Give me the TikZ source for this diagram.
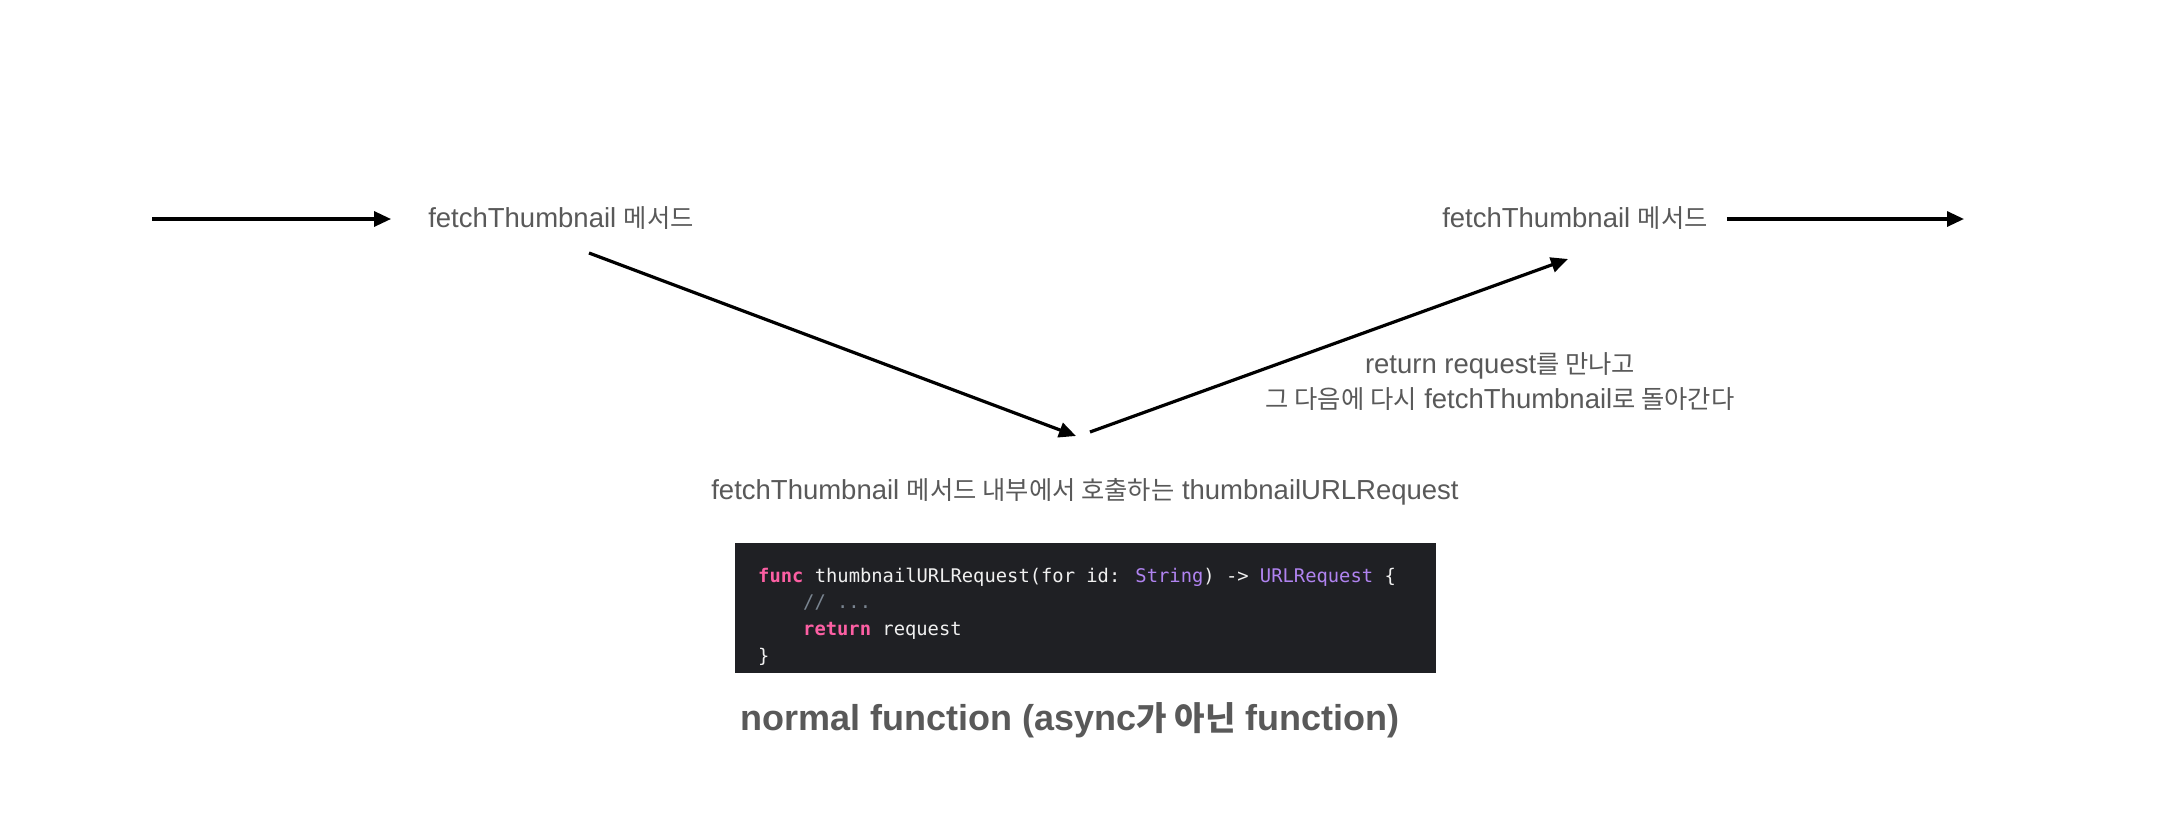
\documentclass[tikz,border=0pt]{standalone}
\usepackage{fontspec}
\setmainfont{Liberation Sans}
\newfontfamily\krfont[Scale=0.92]{Noto Sans CJK KR}
\newfontfamily\codefont{DejaVu Sans Mono}
\newcommand\ko[1]{{\krfont #1}}
\usetikzlibrary{arrows.meta}
\definecolor{txt}{HTML}{595959}
\definecolor{codebg}{HTML}{1F2024}
\definecolor{kw}{HTML}{FC5FA3}
\definecolor{ty}{HTML}{B083F0}
\definecolor{cm}{HTML}{7A8591}
\definecolor{pl}{HTML}{F0F0F0}
\begin{document}
\begin{tikzpicture}[x=1pt,y=-1pt,
  lbl/.style={text=txt,font=\fontsize{27.5}{32}\selectfont,inner sep=0pt},
  ttl/.style={text=txt,font=\fontsize{36}{42}\selectfont\bfseries,inner sep=0pt},
  codeline/.style={text=pl,font=\fontsize{18.8}{22}\codefont,inner sep=0pt,anchor=base west},
  conn/.style={line width=3.2pt,-{Triangle[length=17pt,width=15pt]}}]
\useasboundingbox[fill=white] (0,0) rectangle (2172,822);

% labels
\node[lbl,anchor=base] (t1) at (561,227) {fetchThumbnail \ko{메서드}};
\node[lbl,anchor=base] (t2) at (1575,227) {fetchThumbnail \ko{메서드}};
\node[lbl,anchor=base] (r1) at (1500,373) {return request\ko{를 만나고}};
\node[lbl,anchor=base] (r2) at (1500,408) {\ko{그 다음에 다시} fetchThumbnail\ko{로 돌아간다}};
\node[lbl,anchor=base] (mid) at (1085,499) {fetchThumbnail \ko{메서드 내부에서 호출하는} thumbnailURLRequest};

% code block
\node[fill=codebg,inner sep=0pt,minimum width=701pt,minimum height=130pt,anchor=north west] (blk) at (735,543) {};
\node[codeline] (c1) at (758,582) {\textcolor{kw}{\bfseries func} thumbnailURLRequest(for id: \textcolor{ty}{String}) -> \textcolor{ty}{URLRequest} \{};
\node[codeline,text=cm] (c2) at (803,608.5) {// ...};
\node[codeline] (c3) at (803,635) {\textcolor{kw}{\bfseries return} request};
\node[codeline] (c4) at (758,662) {\}};

\node[ttl,anchor=base] (title) at (1070,730) {normal function (async\ko{가 아닌} function)};

% connectors
\coordinate (inL) at (152,219);
\coordinate (outR) at (1964,219);
\draw[conn] (inL) -- ([xshift=-37pt]t1.west |- inL);
\draw[conn] ([shift={(28,26)}]t1.base) -- ([shift={(-9,-63)}]mid.base);
\draw[conn] ([shift={(5,-67)}]mid.base) -- ([shift={(-7,32)}]t2.base);
\draw[conn] ([xshift=19pt]t2.east |- outR) -- (outR);
\end{tikzpicture}
\end{document}
